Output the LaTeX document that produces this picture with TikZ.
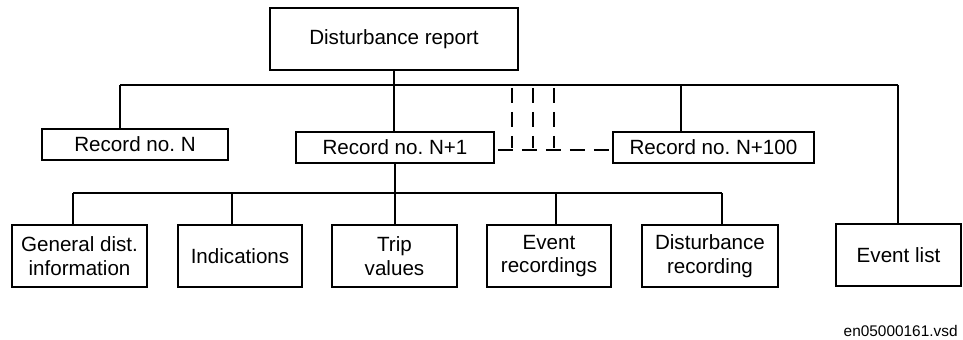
\documentclass[tikz,border=0pt]{standalone}
\usepackage{fontspec}
\setmainfont{Liberation Sans}
\usetikzlibrary{positioning}
\frenchspacing

\tikzset{
  box/.style={draw,line width=0.9pt,align=center,inner sep=0pt,
    font=\fontsize{10.3}{11.8}\selectfont},
  wire/.style={line width=0.9pt},
  dwire/.style={line width=0.9pt,dash pattern=on 7.5pt off 4.5pt}
}

\begin{document}
\begin{tikzpicture}[x=0.5pt,y=-0.5pt]
\useasboundingbox (0,0) rectangle (963,340);

% Top report
\node[box,minimum width=124pt,minimum height=31pt] (rep) at (394,39) {Disturbance report};

% Records
\node[box,minimum width=93pt,minimum height=15.5pt] (recN) at (135,144.5) {Record no. N};
\node[box,minimum width=99pt,minimum height=15.5pt] (rec1) at (395,147.5) {Record no. N+1};
\node[box,minimum width=100.5pt,minimum height=15.5pt] (rec100) at (713.5,147.5) {Record no. N+100};

% Record contents
\node[box,minimum width=67.5pt,minimum height=31pt] (gen) at (79.5,256) {General dist.\\information};
\node[box,minimum width=62pt,minimum height=31pt] (ind) at (240,256) {Indications};
\node[box,minimum width=62.5pt,minimum height=31pt] (trip) at (394.5,256) {Trip\\values};
\node[box,minimum width=62pt,minimum height=31pt] (evr) at (549,256) {Event\\recordings};
\node[box,minimum width=68pt,minimum height=31pt] (dis) at (710,256) {Disturbance\\recording};
\node[box,minimum width=62.5pt,minimum height=31pt] (evl) at (898.5,255) {Event list};

% Upper bus
\coordinate (tN) at (120,85);
\coordinate (t100) at (681,85);
\coordinate (tE) at (898,85);
\draw[wire] (tN) -- (tE);
\draw[wire] (tN) -- (tN |- recN.north);
\draw[wire] (t100) -- (t100 |- rec100.north);
\draw[wire] (tE) -- (tE |- evl.north);
\draw[wire] (rep.south) -- (rep.south |- rec1.north);

% Skipped records
\coordinate (dy) at (0,150);
\draw[dwire,dash phase=-1.5pt] (rec1.east |- dy) -- (rec100.west |- dy);
\foreach \x in {512,533,554} {
  \draw[dwire] (\x,88) -- (\x,148);
}

% Lower bus
\coordinate (bL) at (73,193);
\coordinate (bR) at (722,193);
\draw[wire] (bL) -- (bR);
\draw[wire] (rec1.south) -- (rec1.south |- trip.north);
\foreach \n/\x in {gen/73, ind/232, evr/556, dis/722} {
  \draw[wire] (\x,193) -- (\x,193 |- \n.north);
}

% Drawing id
\node[anchor=base east,font=\fontsize{7.7}{9}\selectfont,inner sep=0pt] (vsd) at (958,337) {en05000161.vsd};
\end{tikzpicture}
\end{document}
